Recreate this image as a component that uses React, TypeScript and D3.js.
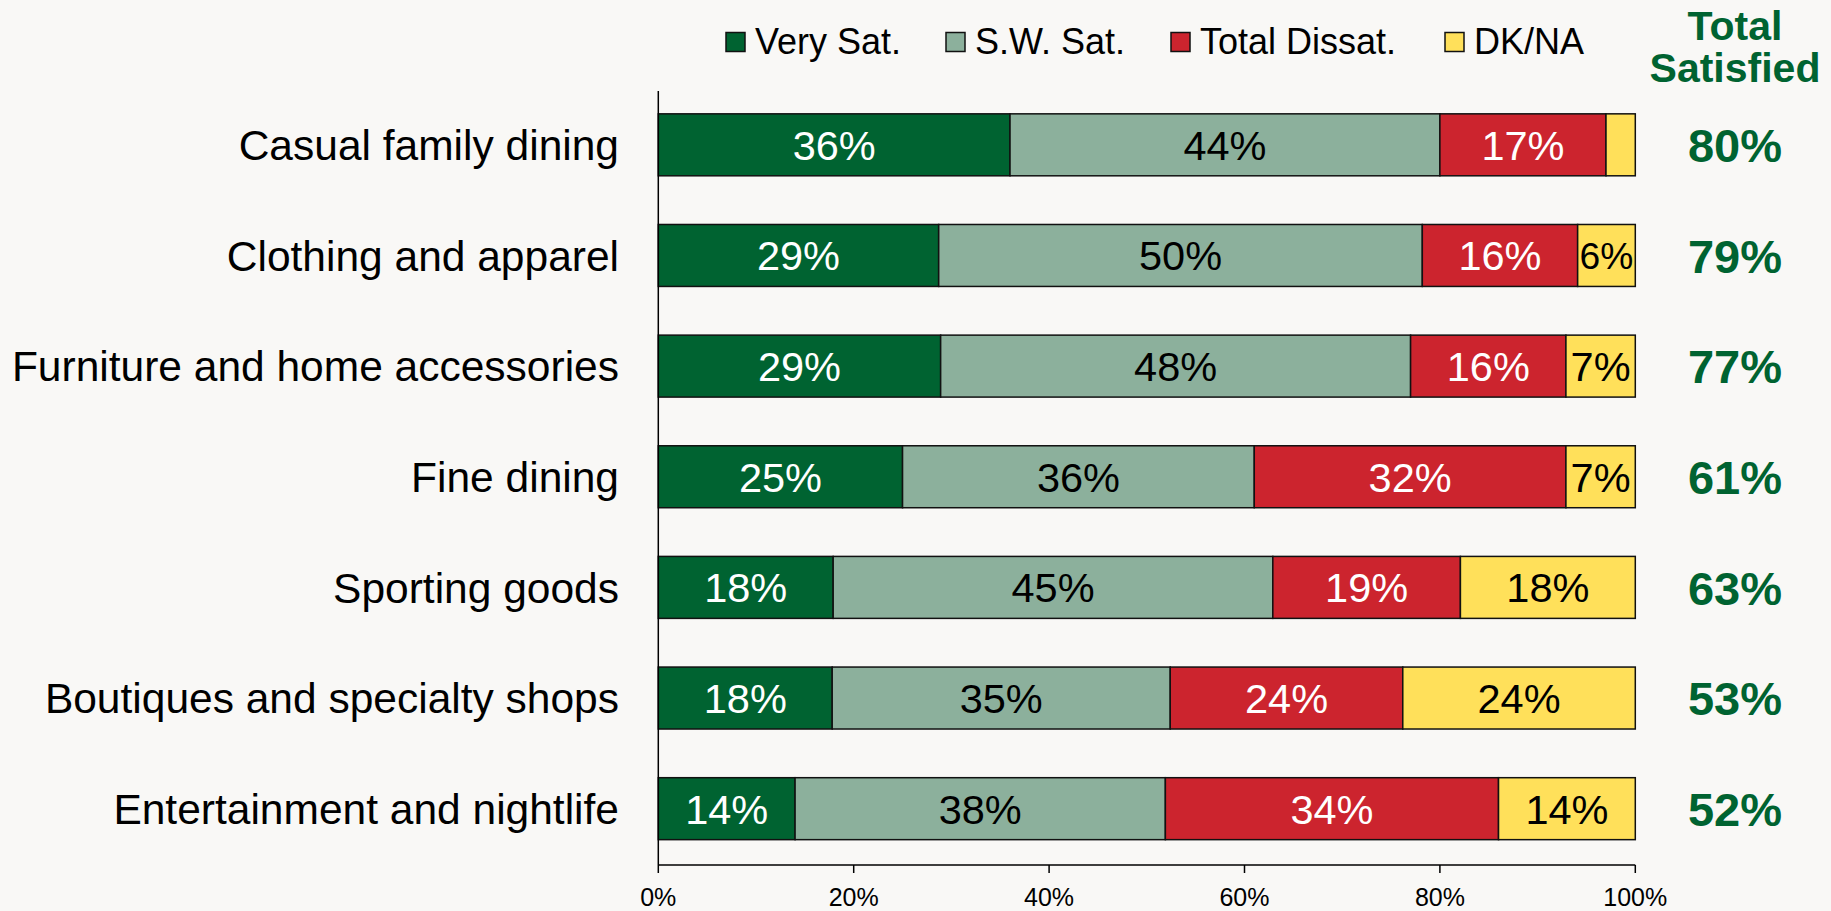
import React from "react";
import * as d3 from "d3";

const categories = [
  "Casual family dining",
  "Clothing and apparel",
  "Furniture and home accessories",
  "Fine dining",
  "Sporting goods",
  "Boutiques and specialty shops",
  "Entertainment and nightlife",
];
const verySat = [36, 28.7, 28.9, 25, 17.9, 17.8, 14];
const swSat = [44, 49.5, 48.1, 36, 45, 34.6, 37.9];
const totalDissat = [17, 15.9, 15.9, 31.9, 19.2, 23.8, 34.1];
const dkna = [3, 5.9, 7.1, 7.1, 17.9, 23.8, 14];
const totalSatisfied = [80, 79, 77, 61, 63, 53, 52];
const xTicks = [0, 20, 40, 60, 80, 100];
const seriesNames = ["Very Sat.", "S.W. Sat.", "Total Dissat.", "DK/NA"];
const showLabel = [
  [true, true, true, false],
  [true, true, true, true],
  [true, true, true, true],
  [true, true, true, true],
  [true, true, true, true],
  [true, true, true, true],
  [true, true, true, true],
];

const colors = ["#006331", "#8CB09C", "#CC242E", "#FFE05A"];
const labelColors = ["#ffffff", "#000000", "#ffffff", "#000000"];
const FONT = "'Liberation Sans', Arial, Helvetica, sans-serif";
const BG = "#F9F8F6";
const GREEN = "#006331";

export default function App() {
  const W = 1831;
  const H = 911;
  const x = d3.scaleLinear().domain([0, 100]).range([658.3, 1635.3]);
  const y = d3
    .scaleBand<string>()
    .domain(categories)
    .range([89.5, 864])
    .paddingInner(0.44)
    .paddingOuter(0.22);
  const series = [verySat, swSat, totalDissat, dkna];
  const rows = categories.map((c, i) => {
    const vals = series.map((s) => s[i]);
    let acc = 0;
    return vals.map((v, k) => {
      const x0 = acc;
      acc += v;
      return { cat: c, k, v, x0, x1: acc, i };
    });
  });

  const legendSquares = [726, 946, 1171, 1445];

  return (
    <svg
      width={W}
      height={H}
      style={{ position: "fixed", left: 0, top: 0, background: BG }}
      fontFamily={FONT}
    >
      <rect x={0} y={0} width={W} height={H} fill={BG} />
      {/* legend */}
      {seriesNames.map((n, k) => (
        <g key={n}>
          <rect
            x={legendSquares[k]}
            y={32.5}
            width={19}
            height={19}
            fill={colors[k]}
            stroke="#111"
            strokeWidth={1.5}
          />
          <text x={legendSquares[k] + 29} y={54} fontSize={36} fill="#000">
            {n}
          </text>
        </g>
      ))}
      {/* header */}
      <text x={1735} y={40} textAnchor="middle" fontSize={41} fontWeight="bold" fill={GREEN}>
        Total
      </text>
      <text x={1735} y={82} textAnchor="middle" fontSize={41} fontWeight="bold" fill={GREEN}>
        Satisfied
      </text>
      {/* bars */}
      {rows.map((segs) =>
        segs.map((s) => {
          const bx = x(s.x0);
          const bw = x(s.x1) - x(s.x0);
          const by = y(s.cat)!;
          const bh = y.bandwidth();
          const fs = Math.min(41.5, bw / 1.55);
          return (
            <g key={s.cat + s.k}>
              <rect x={bx} y={by} width={bw} height={bh} fill={colors[s.k]} stroke="#111" strokeWidth={1.5} />
              {showLabel[s.i][s.k] && (
                <text
                  x={bx + bw / 2}
                  y={by + bh / 2}
                  dy="0.36em"
                  textAnchor="middle"
                  fontSize={fs}
                  fill={labelColors[s.k]}
                >
                  {Math.round(s.v) + "%"}
                </text>
              )}
            </g>
          );
        })
      )}
      {/* category labels */}
      {categories.map((c) => (
        <text
          key={c}
          x={619}
          y={y(c)! + y.bandwidth() / 2}
          dy="0.36em"
          textAnchor="end"
          fontSize={42.5}
          fill="#000"
        >
          {c}
        </text>
      ))}
      {/* total satisfied values */}
      {categories.map((c, i) => (
        <text
          key={"t" + c}
          x={1735}
          y={y(c)! + y.bandwidth() / 2}
          dy="0.37em"
          textAnchor="middle"
          fontSize={47}
          fontWeight="bold"
          fill={GREEN}
        >
          {totalSatisfied[i] + "%"}
        </text>
      ))}
      {/* axes */}
      <line x1={x(0)} x2={x(0)} y1={91} y2={865} stroke="#000" strokeWidth={1.5} />
      <line x1={x(0)} x2={x(100)} y1={865} y2={865} stroke="#000" strokeWidth={1.5} />
      {xTicks.map((t) => (
        <g key={t}>
          <line x1={x(t)} x2={x(t)} y1={865} y2={873} stroke="#000" strokeWidth={1.5} />
          <text x={x(t)} y={906} textAnchor="middle" fontSize={25} fill="#000">
            {t + "%"}
          </text>
        </g>
      ))}
    </svg>
  );
}
